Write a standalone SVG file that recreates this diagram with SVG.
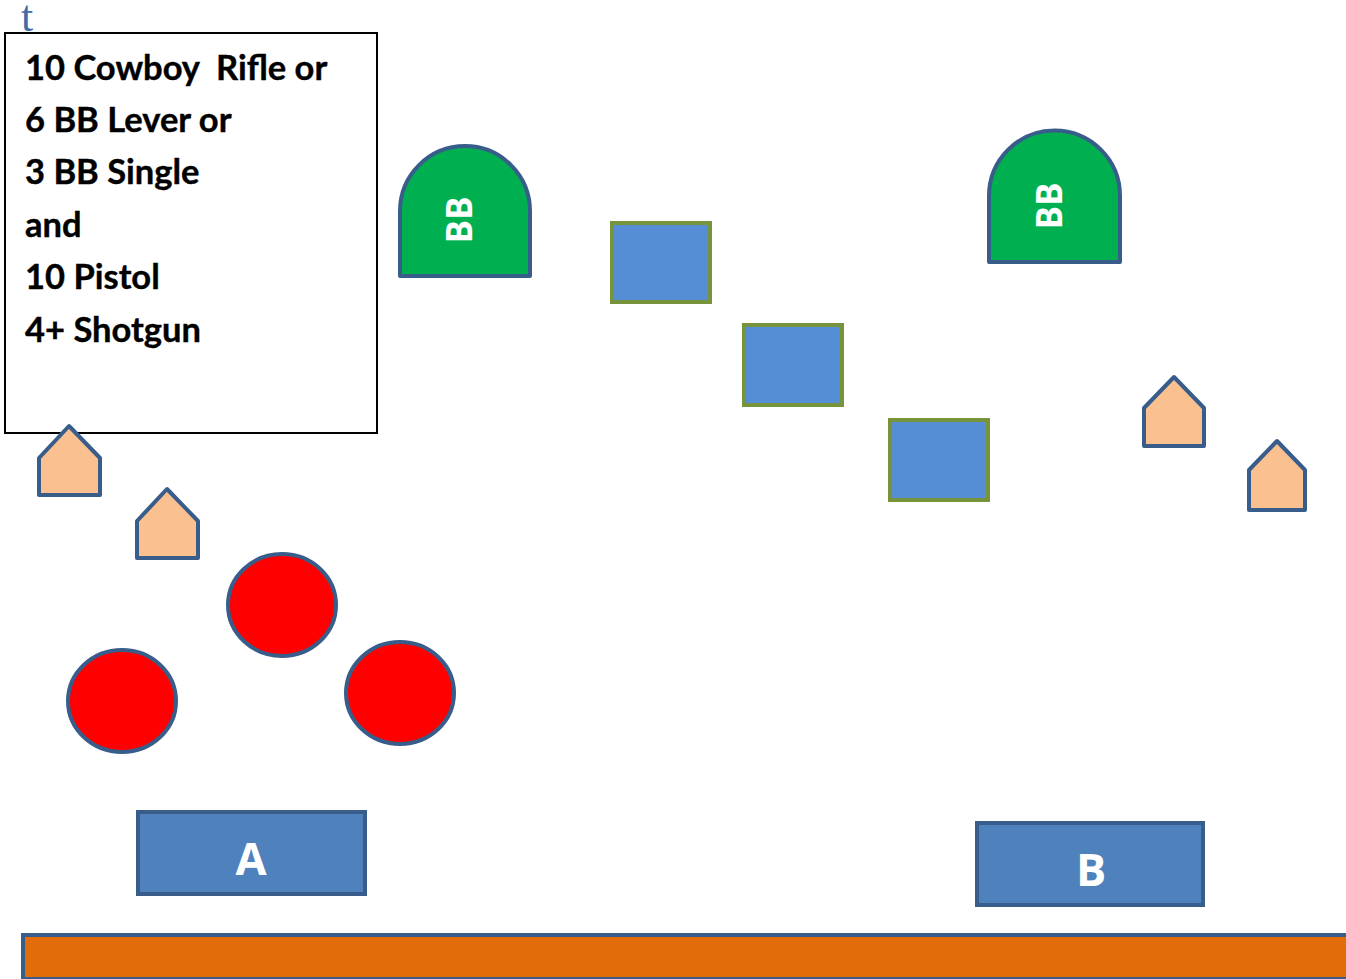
<svg xmlns="http://www.w3.org/2000/svg" width="1346" height="979" viewBox="0 0 1346 979">
<style>
.bb{fill:#00B050;stroke:#385D8A;stroke-width:4;stroke-linejoin:round}
.bbt{font-family:"Open Sans","Liberation Sans",sans-serif;font-weight:bold;font-size:35px;fill:#fff;text-anchor:middle}
.sq{fill:#558ED5;stroke:#77933C;stroke-width:4}
.pen{fill:#FAC090;stroke:#385D8A;stroke-width:4;stroke-linejoin:round}
.red{fill:#FF0000;stroke:#385D8A;stroke-width:4}
.pos{fill:#4F81BD;stroke:#385D8A;stroke-width:4}
.post{font-family:"Open Sans","Liberation Sans",sans-serif;font-weight:bold;font-size:45px;fill:#fff;text-anchor:middle}
.note{font-family:"Lato","Liberation Sans",sans-serif;font-weight:bold;font-size:34.5px;fill:#000;white-space:pre;stroke:#000;stroke-width:0.4}
</style>
<rect x="0" y="0" width="1346" height="979" fill="#fff"/>
<text x="21" y="31" font-family="Liberation Serif,serif" font-size="44" fill="#416BA8">t</text>
<g id="note">
<rect x="5" y="33" width="372" height="400" fill="#fff" stroke="#000" stroke-width="2"/>
<text class="note" x="25" y="80" xml:space="preserve">10 Cowboy  Rifle or</text>
<text class="note" x="25" y="132">6 BB Lever or</text>
<text class="note" x="25" y="184">3 BB Single</text>
<text class="note" x="25" y="237">and</text>
<text class="note" x="25" y="289">10 Pistol</text>
<text class="note" x="25" y="342">4+ Shotgun</text>
</g>
<g id="bb1">
<path class="bb" d="M400,276 L400,211 A65,65 0 0 1 530,211 L530,276 Z"/>
<text class="bbt" transform="translate(472,220) rotate(-90)">BB</text>
</g>
<g id="bb2">
<path class="bb" d="M989,262 L989,196 A65.5,65.5 0 0 1 1120,196 L1120,262 Z"/>
<text class="bbt" transform="translate(1062,206) rotate(-90)">BB</text>
</g>
<g id="sq1"><rect class="sq" x="612" y="223" width="98" height="79"/></g>
<g id="sq2"><rect class="sq" x="744" y="325" width="98" height="80"/></g>
<g id="sq3"><rect class="sq" x="890" y="420" width="98" height="80"/></g>
<g id="p1"><polygon class="pen" points="39,495 39,458 69,426 100,458 100,495"/></g>
<g id="p2"><polygon class="pen" points="137,558 137,521 167,489 198,521 198,558"/></g>
<g id="p3"><polygon class="pen" points="1144,446 1144,408 1174,377 1204,408 1204,446"/></g>
<g id="p4"><polygon class="pen" points="1249,510 1249,470 1277,441 1305,470 1305,510"/></g>
<g id="c1"><ellipse class="red" cx="282" cy="605" rx="54" ry="51"/></g>
<g id="c2"><ellipse class="red" cx="122" cy="701" rx="54" ry="51"/></g>
<g id="c3"><ellipse class="red" cx="400" cy="693" rx="54" ry="51"/></g>
<g id="posA">
<rect class="pos" x="138" y="812" width="227" height="82"/>
<text class="post" x="251" y="875">A</text>
</g>
<g id="posB">
<rect class="pos" x="977" y="823" width="226" height="82"/>
<text class="post" x="1091" y="886">B</text>
</g>
<g id="bar"><rect x="23" y="935" width="1330" height="44" fill="#E36C0A" stroke="#385D8A" stroke-width="4"/></g>
<g id="connectors"></g>
</svg>
